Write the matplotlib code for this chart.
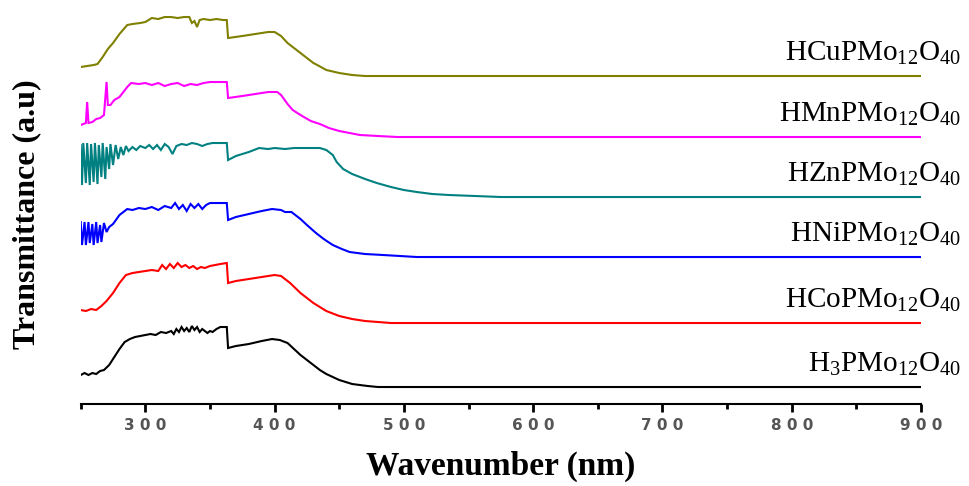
import matplotlib
matplotlib.use("Agg")
import matplotlib.pyplot as plt
from matplotlib.ticker import FixedLocator, MultipleLocator

# --- data (heights in a.u. above each baseline) ---
wl_h3 = [250, 253, 256, 259, 262, 265, 268, 272, 276, 280, 284, 288, 292, 296, 300, 304, 308, 312, 316, 320,
         322, 324, 326, 328, 330, 332, 334, 336, 338, 340, 342, 344, 346, 348, 350, 352, 355, 358, 363, 364,
         370, 380, 390, 398, 404, 410, 415, 420, 425, 430, 435, 440, 445, 450, 455, 460, 466, 472, 480, 490, 900]
t_h3 = [12, 14, 12, 14, 13, 16, 17, 22, 30, 38, 45, 48, 50, 51, 52, 53, 52, 55, 54, 56,
        53, 58, 55, 60, 56, 59, 55, 61, 57, 60, 55, 58, 56, 54, 56, 55, 58, 60, 60, 39,
        41, 43, 46, 48, 47, 44, 38, 32, 27, 22, 17, 13, 10, 7, 5, 3, 2, 1, 0, 0, 0]

wl_co = [250, 254, 258, 262, 266, 270, 275, 280, 285, 290, 295, 300, 305, 310, 313, 316, 319, 322, 325, 328,
         331, 334, 337, 340, 343, 346, 350, 354, 358, 363, 364, 370, 380, 390, 400, 405, 412, 420, 430, 440,
         450, 460, 470, 480, 490, 500, 900]
t_co = [13, 12, 14, 13, 17, 22, 30, 40, 48, 50, 51, 52, 53, 52, 58, 54, 59, 55, 60, 56,
        58, 55, 57, 54, 56, 55, 57, 58, 59, 60, 40, 42, 44, 46, 48, 47, 40, 30, 20, 12,
        7, 4, 2, 1, 0, 0, 0]

wl_ni = [250, 251, 253, 254, 256, 257, 259, 260, 262, 263, 265, 266, 268, 270, 272, 275, 280, 283, 286, 290,
         295, 300, 305, 310, 315, 320, 323, 326, 329, 332, 335, 338, 341, 344, 347, 350, 355, 363, 364, 370,
         380, 390, 398, 405, 408, 413, 420, 425, 432, 438, 445, 452, 458, 470, 484, 510, 900]
t_ni = [35, 12, 35, 12, 35, 14, 33, 12, 35, 14, 32, 15, 34, 25, 30, 33, 42, 45, 48, 47,
        49, 48, 50, 47, 51, 49, 54, 48, 52, 46, 53, 49, 53, 48, 52, 54, 54, 54, 37, 40,
        43, 46, 48, 47, 45, 45, 38, 32, 24, 18, 12, 8, 5, 3, 2, 0, 0]

wl_zn = [250, 251, 252, 254, 255, 257, 258, 260, 261, 263, 264, 266, 267, 269, 270, 272, 273, 275, 277, 279,
         281, 283, 285, 287, 290, 293, 296, 300, 303, 306, 309, 312, 315, 318, 321, 324, 328, 332, 336, 340,
         344, 348, 352, 358, 363, 364, 370, 380, 388, 395, 400, 408, 415, 425, 435, 440, 445, 448, 453, 460,
         470, 479, 490, 500, 510, 522, 535, 555, 575, 900]
t_zn = [52, 12, 54, 14, 54, 12, 53, 15, 54, 13, 52, 20, 54, 18, 50, 28, 53, 32, 52, 38,
        50, 42, 51, 46, 50, 47, 51, 49, 52, 48, 52, 47, 53, 50, 43, 51, 53, 52, 54, 53,
        51, 53, 54, 54, 54, 37, 41, 45, 49, 48, 49, 48, 49, 49, 49, 47, 42, 35, 28, 23,
        18, 14, 10, 7, 5, 3, 2, 1, 0, 0]

wl_mn = [250, 252, 254, 255, 256, 259, 262, 265, 268, 270, 271, 273, 276, 280, 283, 286, 289, 295, 300, 305,
         310, 315, 320, 325, 330, 335, 340, 345, 350, 355, 363, 364, 375, 385, 395, 402, 405, 410, 414, 420,
         428, 435, 442, 450, 458, 466, 480, 495, 900]
t_mn = [12, 13, 14, 35, 14, 15, 18, 19, 22, 55, 32, 32, 37, 40, 45, 50, 54, 53, 54, 52,
        54, 51, 53, 54, 51, 53, 52, 54, 55, 55, 55, 39, 41, 43, 45, 45, 42, 33, 27, 22,
        16, 13, 9, 6, 4, 2, 1, 0, 0]

wl_cu = [250, 255, 260, 263, 267, 271, 275, 280, 286, 290, 296, 300, 305, 310, 315, 320, 325, 330, 334, 336,
         338, 340, 342, 345, 350, 355, 360, 363, 364, 375, 385, 395, 400, 405, 410, 420, 430, 433, 440, 450,
         460, 470, 900]
t_cu = [9, 10, 11, 12, 19, 27, 33, 42, 51, 52, 53, 54, 58, 57, 59, 59, 58, 59, 59, 53,
        55, 49, 56, 57, 56, 57, 56, 56, 38, 40, 42, 44, 44, 40, 33, 23, 13, 11, 6, 3,
        1, 0, 0]

samples = ["H$\\mathregular{_3}$PMo$\\mathregular{_{12}}$O$\\mathregular{_{40}}$",
           "HCoPMo$\\mathregular{_{12}}$O$\\mathregular{_{40}}$",
           "HNiPMo$\\mathregular{_{12}}$O$\\mathregular{_{40}}$",
           "HZnPMo$\\mathregular{_{12}}$O$\\mathregular{_{40}}$",
           "HMnPMo$\\mathregular{_{12}}$O$\\mathregular{_{40}}$",
           "HCuPMo$\\mathregular{_{12}}$O$\\mathregular{_{40}}$"]
offsets = [17, 81, 147, 207, 267, 328]
colors = ["black", "#ff0000", "#0000ff", "#008080", "#ff00ff", "#808000"]

x_ticks = [300, 400, 500, 600, 700, 800, 900]
x_ticklabels = ["3 0 0", "4 0 0", "5 0 0", "6 0 0", "7 0 0", "8 0 0", "9 0 0"]

series = [(wl_h3, t_h3), (wl_co, t_co), (wl_ni, t_ni), (wl_zn, t_zn), (wl_mn, t_mn), (wl_cu, t_cu)]

fig = plt.figure(figsize=(9.7, 4.86), dpi=100)
ax = fig.add_axes([0.0832, 0.1687, 0.8663, 0.8107])

for (wl, t), off, col, name in zip(series, offsets, colors, samples):
    ax.plot(wl, [v + off for v in t], color=col, lw=1.5, solid_joinstyle="miter")
    ax.text(931, off + 15, name, ha="right", va="baseline", fontsize=21,
            family="Liberation Serif", clip_on=False)

ax.set_xlim(250, 900)
ax.set_ylim(0, 394)

# only bottom axis
for s in ["top", "right", "left"]:
    ax.spines[s].set_visible(False)
ax.spines["bottom"].set_linewidth(1.5)
ax.set_yticks([])

ax.xaxis.set_major_locator(FixedLocator(x_ticks))
ax.set_xticklabels(x_ticklabels)
ax.xaxis.set_minor_locator(MultipleLocator(100, offset=50))
ax.tick_params(axis="x", which="major", length=6, width=2, pad=4,
               labelsize=11, labelcolor="#555555")
ax.tick_params(axis="x", which="minor", length=3.5, width=2)
for lab in ax.get_xticklabels():
    lab.set_fontweight("bold")

ax.set_xlabel("Wavenumber (nm)", fontsize=24, fontweight="bold", family="Liberation Serif", labelpad=13)
fig.text(0.028, 0.56, "Transmittance (a.u)", rotation=90, ha="center", va="center",
         fontsize=23, fontweight="bold", family="Liberation Serif")

fig.savefig("out.png", dpi=100)
